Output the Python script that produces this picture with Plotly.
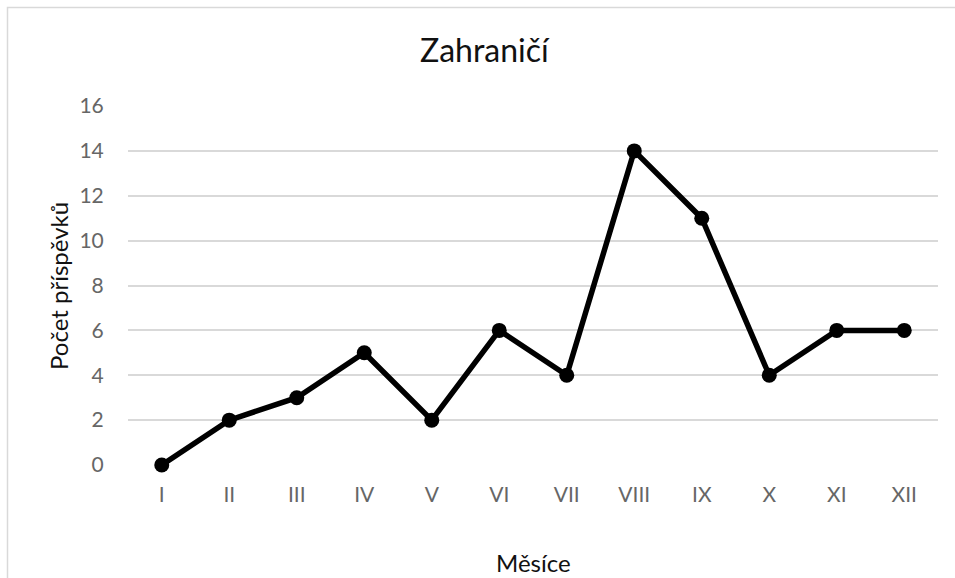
import plotly.graph_objects as go

months = ["I", "II", "III", "IV", "V", "VI", "VII", "VIII", "IX", "X", "XI", "XII"]
counts = [0, 2, 3, 5, 2, 6, 4, 14, 11, 4, 6, 6]
y_ticks = [0, 2, 4, 6, 8, 10, 12, 14, 16]

W, H = 955, 578
L, R, T, B = 128, 17, 106, 113
pw = W - L - R
ph = H - T - B

def px(x):
    return (x - L) / pw

def py(y):
    return (H - B - y) / ph

font = "Lato, Open Sans, Liberation Sans, sans-serif"

fig = go.Figure()
fig.add_trace(go.Scatter(
    x=months, y=counts, mode="lines+markers",
    line=dict(color="black", width=5.5),
    marker=dict(color="black", size=15),
    cliponaxis=False, showlegend=False,
))

fig.update_layout(
    width=W, height=H,
    margin=dict(l=L, r=R, t=T, b=B),
    paper_bgcolor="white", plot_bgcolor="white",
    font=dict(family=font, color="#595959", size=21),
    xaxis=dict(
        type="category", showgrid=False, zeroline=False, showline=False,
        ticks="outside", ticklen=11, tickcolor="rgba(0,0,0,0)",
        tickfont=dict(size=21, color="#666666"),
        range=[-0.5, 11.5],
    ),
    yaxis=dict(
        range=[0, 16], tickvals=y_ticks, showgrid=True, gridcolor="#d9d9d9",
        gridwidth=1.5, zeroline=False, showline=False,
        ticks="outside", ticklen=19, tickcolor="rgba(0,0,0,0)",
        tickfont=dict(size=21, color="#666666"),
    ),
    shapes=[dict(
        type="rect", xref="paper", yref="paper",
        x0=px(7.5), x1=px(W + 50), y0=py(7.5), y1=py(H + 50),
        line=dict(color="#d9d9d9", width=1.5), layer="below",
    )],
    annotations=[
        dict(text="Zahraničí", x=px(485), y=py(50), xref="paper", yref="paper",
             showarrow=False, xanchor="center", yanchor="middle",
             font=dict(size=32, color="#111111", family=font)),
        dict(text="Měsíce", x=px(533), y=py(562), xref="paper", yref="paper",
             showarrow=False, xanchor="center", yanchor="middle",
             font=dict(size=24, color="#111111", family=font)),
        dict(text="Počet příspěvků", x=px(58), y=py(286), xref="paper", yref="paper",
             showarrow=False, xanchor="center", yanchor="middle", textangle=-90,
             font=dict(size=24, color="#111111", family=font)),
    ],
)

fig.write_html("out.html", config={"displayModeBar": False},
               post_script="document.body.style.margin='0px';document.body.style.overflow='hidden';")
